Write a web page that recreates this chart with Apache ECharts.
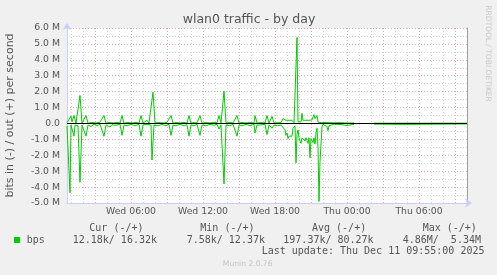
<!DOCTYPE html>
<html><head><meta charset="utf-8">
<script src="https://cdn.jsdelivr.net/npm/echarts@6/dist/echarts.min.js"></script>
<style>html,body{margin:0;padding:0;background:#f0f0f0}#c{width:497px;height:275px}</style>
</head><body><div id="c"></div>
<script>
// time in minutes since Wed 00:00, values in Mbit/s
const outData = [
[40,0.05],[50,0.02],[60,0.46],[65,0.1],[75,0.5],[85,0.03],[95,0.05],[105,1.76],[115,0.02],[125,0.08],
[135,0.5],[145,0.02],[165,0.06],[185,0.03],[205,0.08],[215,0.02],[225,0.5],[235,0.02],[250,0.06],[270,0.03],
[290,0.07],[305,0.02],[315,0.5],[325,0.02],[345,0.06],[365,0.03],[385,0.07],[400,0.02],[410,0.5],[420,0.03],
[440,0.2],[450,0.03],[460,0.02],[470,1.97],[480,0.03],[500,0.06],[520,0.03],[540,0.07],[550,0.02],[560,0.5],
[570,0.02],[585,0.06],[605,0.03],[625,0.07],[640,0.02],[650,0.5],[660,0.02],[675,0.06],[690,0.03],[705,0.5],
[715,0.02],[735,0.06],[755,0.03],[775,0.07],[790,0.03],[800,0.5],[810,0.03],[820,0.02],[825,2.03],[835,0.03],
[855,0.06],[870,0.03],[880,0.02],[890,0.5],[900,0.02],[915,0.06],[935,0.03],[955,0.07],[975,0.02],[980,0.5],
[990,0.03],[1005,0.05],[1030,0.03],[1040,0.5],[1050,0.03],[1055,0.02],[1065,0.45],[1075,0.03],[1085,0.02],[1095,0.05],
[1110,0.05],[1120,0.3],[1125,0.36],[1130,0.25],[1135,0.2],[1150,0.2],[1165,0.2],[1175,0.05],[1185,0.02],[1190,5.4],
[1195,0.1],[1200,0.05],[1210,0.1],[1215,0.63],[1220,0.2],[1235,0.2],[1250,0.2],[1265,0.22],[1270,0.4],[1275,0.55],
[1280,0.3],[1290,0.5],[1295,0.1],[1300,0.03],[1310,0.05],[1320,0.08],[1335,0.06],[1355,0.05],[1380,0.04],[1405,0.05],
[1430,0.03],[1440,0.1],[1455,0.03],[1475,0.03],[1525,null],[1575,0.016],[1720,0.02],[2040,0.016]
];
const inData = [
[40,-0.15],[50,-0.1],[55,-4.36],[60,-0.1],[65,-0.2],[75,-0.8],[80,-0.1],[95,-0.15],[105,-3.7],[115,-0.1],
[125,-0.15],[135,-0.8],[145,-0.1],[160,-0.2],[175,-0.05],[190,-0.15],[205,-0.05],[215,-0.1],[225,-0.8],[235,-0.1],
[255,-0.22],[265,-0.08],[285,-0.12],[305,-0.05],[315,-0.75],[325,-0.1],[340,-0.15],[360,-0.05],[380,-0.15],[400,-0.05],
[410,-0.8],[420,-0.1],[440,-0.05],[450,-0.12],[460,-0.1],[465,-2.3],[475,-0.1],[495,-0.15],[515,-0.05],[535,-0.15],
[550,-0.05],[560,-0.75],[570,-0.1],[585,-0.15],[605,-0.05],[625,-0.15],[640,-0.08],[650,-0.8],[660,-0.1],[675,-0.15],
[690,-0.05],[705,-0.75],[715,-0.1],[735,-0.15],[755,-0.05],[775,-0.12],[790,-0.05],[800,-0.35],[810,-0.1],[820,-0.05],
[825,-3.8],[835,-0.1],[855,-0.15],[870,-0.05],[880,-0.1],[890,-0.8],[900,-0.1],[915,-0.15],[935,-0.05],[955,-0.15],
[975,-0.05],[980,-0.6],[990,-0.1],[1005,-0.1],[1030,-0.05],[1040,-0.7],[1050,-0.1],[1055,-0.08],[1065,-0.3],[1075,-0.1],
[1080,-0.1],[1090,-0.15],[1100,-0.25],[1110,-0.1],[1120,-0.1],[1130,-0.4],[1135,-0.75],[1140,-0.6],[1145,-0.95],[1150,-0.8],
[1155,-0.85],[1160,-0.7],[1165,-0.8],[1170,-0.3],[1175,-0.35],[1180,-0.15],[1185,-2.47],[1190,-0.7],[1195,-0.4],[1200,-0.9],
[1205,-1.1],[1210,-1.25],[1215,-0.9],[1220,-1.0],[1225,-0.95],[1230,-1.1],[1235,-0.9],[1240,-1.0],[1245,-1.25],[1250,-0.9],
[1255,-2.16],[1260,-0.95],[1265,-0.85],[1270,-1.2],[1275,-0.9],[1280,-1.3],[1285,-0.6],[1290,-0.3],[1295,-1.5],[1300,-4.9],
[1305,-2.4],[1310,-2.3],[1315,-0.2],[1320,-0.05],[1330,-0.1],[1340,-0.2],[1345,-0.45],[1350,-0.15],[1360,-0.05],[1375,-0.05],
[1405,-0.06],[1440,-0.13],[1450,-0.04],[1475,-0.05],[1525,null],[1575,-0.04],[1720,-0.06],[1725,-0.03],[2040,-0.03]
];
const xTickLabels = ['Wed 06:00','Wed 12:00','Wed 18:00','Thu 00:00','Thu 06:00'];
const xLabelMinutes = [360,720,1080,1440,1800];
const titleText = 'wlan0 traffic - by day';
const yAxisName = 'bits in (-) / out (+) per second';
const legendHeaders = ['Cur (-/+)','Min (-/+)','Avg (-/+)','Max (-/+)'];
const legendValues = ['12.18k/ 16.32k','7.58k/ 12.37k','197.37k/ 80.27k','4.86M/  5.34M'];
const seriesName = 'bps';
const lastUpdate = 'Last update: Thu Dec 11 09:55:00 2025';
const footer = 'Munin 2.0.76';
const sideText = 'RRDTOOL / TOBI OETIKER';

const X_MIN = 40, X_MAX = 2040;
const hourTicks = []; for (let m = 60; m < X_MAX; m += 60) hourTicks.push(m);
const majorTicks = []; for (let m = 180; m < X_MAX; m += 180) majorTicks.push(m);

const GREEN = '#00cc00';
const TXT = '#555555';
const SANS = 'DejaVu Sans';
const MONO = 'DejaVu Sans Mono';
const AXIS_BLUE = '#c8d0f8';

function toSeries(arr){ return arr.map(p => [p[0], p[1] === null ? '-' : p[1] * 1e6]); }
function yFmt(v){ if (Math.abs(v) < 1) return '0.0'; return (v/1e6).toFixed(1) + ' M'; }

const chart = echarts.init(document.getElementById('c'), null, {renderer:'canvas'});
const hdrX = [89.3, 200.3, 312, 422.7];
const valX = [72.7, 186.7, 283.3, 402.7];
const graphics = [
  {type:'text', x:249, y:19.5, style:{text:titleText, font:'12.5px "'+SANS+'"', fill:TXT, align:'center', verticalAlign:'middle'}},
  {type:'text', x:10, y:115.5, rotation:Math.PI/2, style:{text:yAxisName, font:'11px "'+SANS+'"', fill:TXT, align:'center', verticalAlign:'middle'}},
  {type:'rect', shape:{x:14, y:237, width:6, height:6}, style:{fill:GREEN}},
  {type:'text', x:26.7, y:240, style:{text:seriesName, font:'10px "'+MONO+'"', fill:TXT, verticalAlign:'middle'}},
  {type:'text', x:261.7, y:251.5, style:{text:lastUpdate, font:'10px "'+MONO+'"', fill:TXT, verticalAlign:'middle'}},
  {type:'text', x:247.7, y:264, style:{text:footer, font:'7.6px "'+SANS+'"', fill:'#c4c4c4', align:'center', verticalAlign:'middle'}},
  {type:'text', x:488, y:53.5, rotation:-Math.PI/2, style:{text:sideText, font:'7.5px "'+SANS+'"', fill:'#c8c8c8', align:'center', verticalAlign:'middle'}}
];
legendHeaders.forEach((h,i)=>graphics.push({type:'text', x:hdrX[i], y:228, style:{text:h, font:'10px "'+MONO+'"', fill:TXT, verticalAlign:'middle'}}));
legendValues.forEach((h,i)=>graphics.push({type:'text', x:valX[i], y:240, style:{text:h, font:'10px "'+MONO+'"', fill:TXT, verticalAlign:'middle'}}));

const yBase = {type:'value', min:-5e6, max:6e6, gridIndex:0};
chart.setOption({
  animation:false,
  backgroundColor:'#f0f0f0',
  grid:{left:67, top:28, width:400, height:175, show:true, backgroundColor:'#ffffff', borderWidth:0},
  xAxis:[
    {type:'value', min:X_MIN, max:X_MAX, position:'bottom',
     axisLine:{show:true, onZero:false, lineStyle:{color:AXIS_BLUE, width:1}, symbol:['none','arrow'], symbolSize:[7,7], symbolOffset:[0,5]},
     axisTick:{show:false, customValues:hourTicks},
     axisLabel:{show:false},
     splitLine:{show:true, lineStyle:{color:'#d4d4d4', type:[1,2], width:1}}},
    {type:'value', min:X_MIN, max:X_MAX, position:'bottom',
     axisLine:{show:false, onZero:false},
     axisTick:{show:false, customValues:majorTicks},
     axisLabel:{show:true, customValues:xLabelMinutes, margin:4, color:TXT, fontFamily:SANS, fontSize:9.3,
       formatter:v => { const i = xLabelMinutes.indexOf(v); return i >= 0 ? xTickLabels[i] : ''; }},
     splitLine:{show:true, lineStyle:{color:'#eba3a3', type:[1,2], width:1}}}
  ],
  yAxis:[
    Object.assign({}, yBase, {position:'left', interval:0.5e6,
      axisLine:{show:true, onZero:false, lineStyle:{color:AXIS_BLUE}, symbol:['none','arrow'], symbolSize:[7,7], symbolOffset:[0,5]},
      axisTick:{show:false}, axisLabel:{show:false},
      splitLine:{show:true, lineStyle:{color:'#d4d4d4', type:[1,2], width:1}}}),
    Object.assign({}, yBase, {position:'left', interval:1e6,
      axisLine:{show:false, onZero:false}, axisTick:{show:false},
      axisLabel:{show:true, margin:7, color:TXT, fontFamily:SANS, fontSize:9.3, formatter:yFmt},
      splitLine:{show:true, lineStyle:{color:'#eba3a3', type:[1,2], width:1}}}),
    Object.assign({}, yBase, {position:'right', interval:1e6,
      axisLine:{show:true, onZero:false, lineStyle:{color:'#a0a0a0'}}, axisTick:{show:false},
      axisLabel:{show:false}, splitLine:{show:false}})
  ],
  series:[
    {type:'line', name:'out', xAxisIndex:0, yAxisIndex:1, data:toSeries(outData), showSymbol:false, symbol:'none',
     connectNulls:false, lineStyle:{color:GREEN, width:1}, itemStyle:{color:GREEN}, z:3},
    {type:'line', name:'in', xAxisIndex:0, yAxisIndex:1, data:toSeries(inData), showSymbol:false, symbol:'none',
     connectNulls:false, lineStyle:{color:GREEN, width:1}, itemStyle:{color:GREEN}, z:4,
     markLine:{silent:true, symbol:'none', label:{show:false}, animation:false,
       lineStyle:{color:'#000000', width:1, type:'solid'}, data:[{yAxis:0}]}}
  ],
  graphic:graphics
});
</script></body></html>
